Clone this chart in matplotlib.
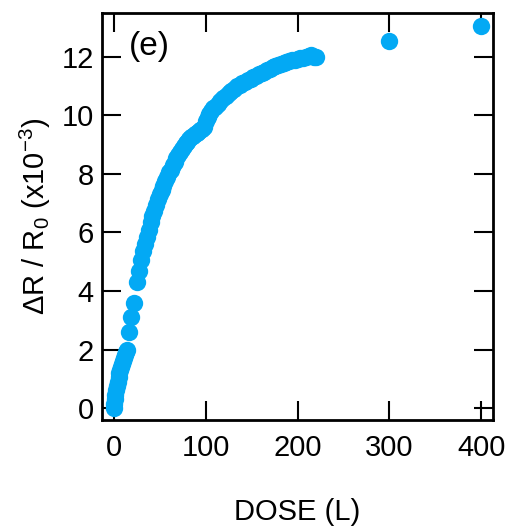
import numpy as np
import matplotlib.pyplot as plt

plt.rcParams['font.family'] = ['Liberation Sans', 'DejaVu Sans']
plt.rcParams['mathtext.fontset'] = 'custom'
plt.rcParams['mathtext.rm'] = 'Liberation Sans'
plt.rcParams['mathtext.it'] = 'Liberation Sans'

# dose (L) and resistance change (x1e-3)
dose = [0, 0.5, 1, 1.5, 2, 3, 4, 5, 6, 7, 8, 9, 10, 11, 12, 13, 14,
        16, 19, 22, 25, 27, 30, 32, 34, 36, 38, 40, 42, 44, 46, 48, 50,
        52, 54, 56, 58, 60, 62, 64, 66, 68, 70, 72, 74, 76, 78, 80, 82,
        84, 86, 88, 90, 92, 94, 96, 98, 100, 102, 104, 106, 108, 110,
        113, 116, 119, 122, 125, 128, 131, 134, 137, 140, 143, 146, 149,
        152, 155, 158, 161, 164, 167, 170, 173, 176, 179, 182, 185, 188,
        191, 194, 197, 200, 203, 206, 209, 212, 215, 218, 220, 300, 400]
dR = [0.0, 0.15, 0.3, 0.45, 0.6, 0.75, 0.9, 1.05, 1.2, 1.3, 1.4, 1.5,
      1.6, 1.7, 1.8, 1.9, 2.0, 2.6, 3.1, 3.6, 4.3, 4.7, 5.05, 5.35, 5.6,
      5.85, 6.1, 6.35, 6.55, 6.75, 6.95, 7.15, 7.3, 7.45, 7.6, 7.75, 7.9,
      8.05, 8.15, 8.3, 8.4, 8.55, 8.65, 8.75, 8.85, 8.95, 9.05, 9.1, 9.2,
      9.25, 9.3, 9.35, 9.4, 9.45, 9.5, 9.55, 9.6, 9.8, 9.95, 10.05,
      10.15, 10.25, 10.3, 10.4, 10.5, 10.6, 10.65, 10.75, 10.85, 10.9,
      11.0, 11.05, 11.1, 11.15, 11.2, 11.25, 11.3, 11.35, 11.4, 11.45,
      11.5, 11.55, 11.6, 11.65, 11.7, 11.72, 11.75, 11.78, 11.82, 11.85,
      11.88, 11.9, 11.92, 11.95, 11.97, 12.0, 12.02, 12.05, 12.0, 11.98,
      12.55, 13.05]

xticks = [0, 100, 200, 300, 400]
yticks = [0, 2, 4, 6, 8, 10, 12]

fig = plt.figure(figsize=(5.11, 5.31), dpi=100)
ax = fig.add_axes([0.1996, 0.209, 0.7652, 0.7665])

ax.plot(dose, dR, 'o', color='#03A9F4', markersize=12.5, markeredgewidth=0)

ax.set_xlim(-13, 413)
ax.set_ylim(-0.41, 13.5)
ax.set_xticks(xticks)
ax.set_yticks(yticks)
ax.tick_params(direction='in', length=14, width=1.5, labelsize=21,
               top=True, right=True)
ax.tick_params(axis='x', pad=10)
ax.tick_params(axis='y', pad=6)
for sp in ax.spines.values():
    sp.set_linewidth(2)

ax.set_xlabel('DOSE (L)', fontsize=21, labelpad=26)
ax.set_ylabel(r'ΔR / R$_0$ (x10$^{-3}$)', fontsize=21, labelpad=6)
ax.text(0.07, 0.955, '(e)', transform=ax.transAxes, fontsize=24,
        va='top', ha='left')

fig.savefig('out.png', dpi=100)
